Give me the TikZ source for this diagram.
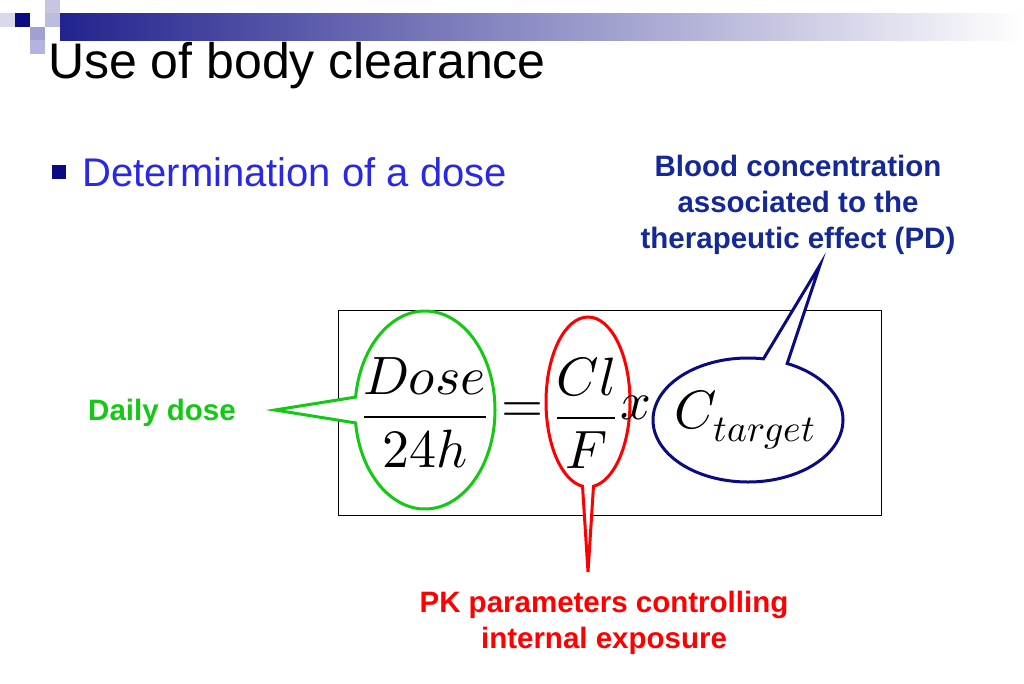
\documentclass[tikz,border=0pt]{standalone}
\usepackage{fontspec}
\usepackage{unicode-math}
\setmainfont{Liberation Sans}
\setmathfont{Latin Modern Math}
\usetikzlibrary{shapes.callouts}
\definecolor{navy}{RGB}{10,10,130}
\definecolor{lav}{RGB}{160,160,210}
\definecolor{dblue}{RGB}{20,40,150}
\definecolor{tblue}{RGB}{40,40,230}
\definecolor{cgreen}{RGB}{20,200,20}
\tikzset{
  bubble/.style={ellipse callout, draw, line width=3pt, fill=white, inner sep=0pt},
  note/.style={font=\bfseries\fontsize{29.5}{36}\selectfont, align=center},
  formule/.style={font=\fontsize{54}{60}\selectfont, inner sep=0pt}
}
\begin{document}
\begin{tikzpicture}[x=1pt,y=-1pt]
\useasboundingbox (0,0) rectangle (1024,683);
%Bandeau
\shade[left color=navy!90, right color=white] (60,13) rectangle (1024,40);
\fill[navy] (15,13) rectangle (30,27);
\fill[lav!60] (45,0) rectangle (60,13);
\fill[lav!70] (45,13) rectangle (60,27);
\fill[lav] (30,27) rectangle (45,40);
\fill[lav!80] (30,40) rectangle (45,54);
\fill[lav!40] (0,13) rectangle (15,27);
\node[anchor=west, inner sep=0pt, font=\fontsize{50}{56}\selectfont] (titre) at (48,66) {Use of body clearance};
\fill[navy] (52,165) rectangle (66,179);
\node[anchor=west, inner sep=0pt, text=tblue, font=\fontsize{40}{46}\selectfont] (puce) at (82,172) {Determination of a dose};
%Formule
\draw[line width=1pt] (338,310) rectangle (881,515);
\node[bubble, draw=cgreen, minimum width=140, minimum height=198, callout absolute pointer={(275,410)}] (dose) at (425,410) {};
\node[bubble, draw=red, minimum width=84, minimum height=170, callout absolute pointer={(588,572)}] (cl) at (588,402) {};
\node[bubble, draw=navy, minimum width=190, minimum height=124, callout absolute pointer={(820,265)}] (cible) at (748,420) {};
\node[formule] (frac1) at (425,413) {$\displaystyle\frac{Dose}{24h}$};
\node[formule] (egal) at (522,413) {$=$};
\node[formule] (frac2) at (586,413) {$\displaystyle\frac{Cl}{F}$};
\node[formule] (fois) at (636,408) {$x$};
\node[formule] (ctarget) at (745,420) {$C_{target}$};
%Textes
\node[note, text=cgreen] (jour) at (162,413) {Daily dose};
\node[note, text=dblue] (pd) at (798,205) {Blood concentration\\associated to the\\therapeutic effect (PD)};
\node[note, text=red] (pk) at (604,623) {PK parameters controlling\\internal exposure};
\end{tikzpicture}
\end{document}
